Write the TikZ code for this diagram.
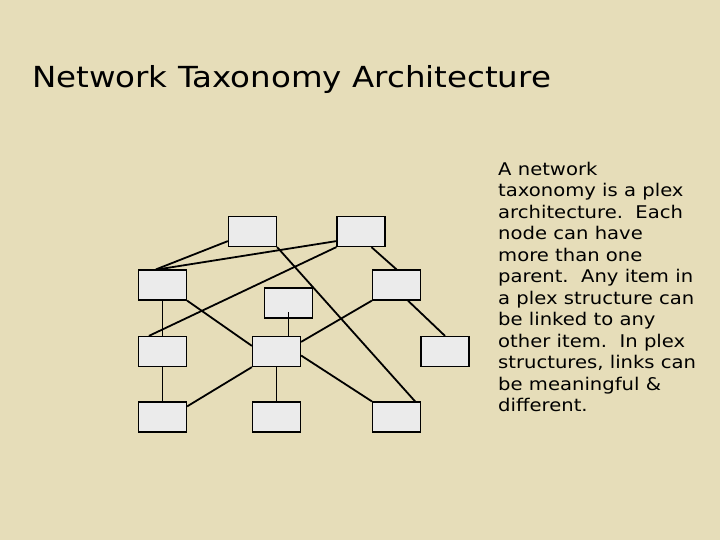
\documentclass[tikz,border=0pt]{standalone}
\usepackage{fontspec}
\setmainfont{DejaVu Sans}
\newfontfamily\wide[FakeStretch=1.12]{DejaVu Sans}
\definecolor{bg}{HTML}{E6DDB9}
\definecolor{bx}{HTML}{EBEBEB}
\begin{document}
\begin{tikzpicture}[x=1pt,y=-1pt,
  box/.style={draw=black,fill=bx,line width=1.2pt,minimum width=48pt,minimum height=30pt,inner sep=0pt},
  ln/.style={line width=1.8pt}]
\fill[bg] (0,0) rectangle (720,540);
\useasboundingbox (0,0) rectangle (720,540);
\node[anchor=base west,inner sep=0pt,font=\wide\fontsize{29}{34}\selectfont] (title) at (32,88) {Network Taxonomy Architecture};
\node[anchor=north west,align=left,inner sep=0pt,font=\wide\fontsize{17.5}{21.5}\selectfont] (txt) at (498,162) {A network\\taxonomy is a plex\\architecture.\ \ Each\\node can have\\more than one\\parent.\ \ Any item in\\a plex structure can\\be linked to any\\other item.\ \ In plex\\structures, links can\\be meaningful \&\\different.};
\node[box] (t1) at (252.5,231.5) {};
\node[box] (t2) at (361,231.5) {};
\node[box] (l1) at (162.5,285) {};
\node[box] (r1) at (396.5,285) {};
\node[box] (m) at (288.5,303) {};
\node[box] (l3) at (162.5,351.5) {};
\node[box] (c3) at (276.5,351.5) {};
\node[box] (r3) at (445,351.5) {};
\node[box] (l4) at (162.5,417) {};
\node[box] (c4) at (276.5,417) {};
\node[box] (r4) at (396.5,417) {};
\coordinate (mc) at (288.5,312);
\draw[ln] ([yshift=6pt]t1.south west) -- ([xshift=18pt]l1.north west);
\draw[ln] ([yshift=6pt]t2.south west) -- ([xshift=20pt]l1.north west);
\draw[ln] (t2.south west) -- ([xshift=11pt]l3.north west);
\draw[ln] (t1.south east) -- ([xshift=-6pt]r4.north east);
\draw[ln] ([xshift=35pt]t2.south west) -- (r1.north);
\draw[ln] (l1.south) -- (l3.north);
\draw[ln] (l1.south east) -- ([yshift=-10pt]c3.north west);
\draw[line width=0.8pt] (mc) -- (c3.north -| mc);
\draw[ln] (r1.south west) -- ([yshift=-6pt]c3.north east);
\draw[ln] ([xshift=36pt]r1.south west) -- (r3.north);
\draw[ln] (l3.south) -- (l4.north);
\draw[ln] (c3.south west) -- ([yshift=-5pt]l4.north east);
\draw[ln] (c3.south) -- (c4.north);
\draw[ln] ([yshift=-4pt]c3.east) -- (r4.north west);
\end{tikzpicture}
\end{document}
